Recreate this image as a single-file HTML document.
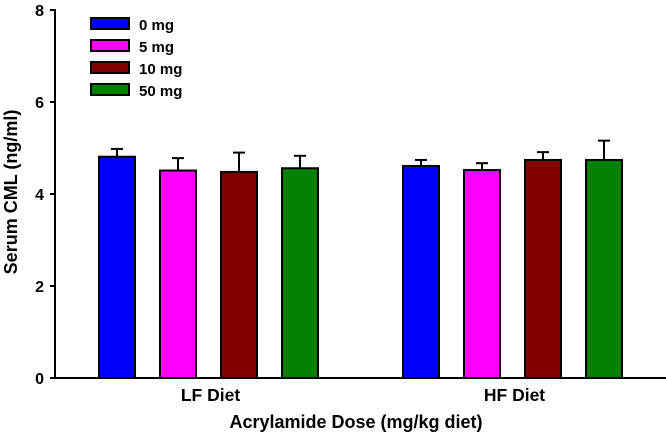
<!DOCTYPE html>
<html><head><meta charset="utf-8"><style>
body{margin:0;background:#fff}
svg text{font-family:"Liberation Sans",Arial,sans-serif;font-weight:bold;fill:#000}
</style></head><body>
<svg id="chart" width="666" height="435">
<g id="bars"></g>
<g id="axes"></g>
<g id="legend"></g>
</svg>
<script>
const groups=["LF Diet","HF Diet"];
const series=["0 mg","5 mg","10 mg","50 mg"];
const colors=["#0000ff","#ff00ff","#800000","#008000"];
const lfMeans=[4.81,4.51,4.48,4.56];
const lfErr=[0.17,0.27,0.42,0.27];
const hfMeans=[4.61,4.52,4.74,4.74];
const hfErr=[0.13,0.15,0.17,0.42];
const yTicks=[0,2,4,6,8];
const NS="http://www.w3.org/2000/svg";
const x0=55,yBase=378,yTop=10,yMax=8;
const y=v=>yBase-(v/yMax)*(yBase-yTop);
const groupStart=[99,403],barW=36,step=61;
function mk(t,a,p){const e=document.createElementNS(NS,t);for(const k in a)e.setAttribute(k,a[k]);p.appendChild(e);return e;}
const bars=document.getElementById('bars'),axes=document.getElementById('axes'),leg=document.getElementById('legend');
[lfMeans,hfMeans].forEach((means,gi)=>{
 const errs=gi?hfErr:lfErr;
 means.forEach((m,si)=>{
  const bx=groupStart[gi]+si*step,cx=bx+barW/2;
  const e=mk('line',{x1:cx,x2:cx,y1:y(m),y2:y(m+errs[si]),stroke:'#000','stroke-width':2},bars);
  
  
  const c=mk('line',{x1:cx-6,x2:cx+6,y1:y(m+errs[si]),y2:y(m+errs[si]),stroke:'#000','stroke-width':2},bars);
  
  
  const r=mk('rect',{x:bx,y:y(m),width:barW,height:yBase-y(m),fill:colors[si],stroke:'#000','stroke-width':2},bars);
  
  
 });
 const t=mk('text',{x:groupStart[gi]+(3*step+barW)/2+2,y:401,'font-size':17.5,'text-anchor':'middle'},axes);
 t.textContent=groups[gi];
 
 
});
const ya=mk('line',{x1:x0,x2:x0,y1:yTop-1,y2:yBase+1,stroke:'#000','stroke-width':2},axes);


const xa=mk('line',{x1:x0-5,x2:666,y1:yBase,y2:yBase,stroke:'#000','stroke-width':2},axes);


yTicks.forEach(v=>{
 const tk=mk('line',{x1:x0-5,x2:x0,y1:y(v),y2:y(v),stroke:'#000','stroke-width':2},axes);
 
 
 const t=mk('text',{x:x0-11,y:y(v)+6,'font-size':16,'text-anchor':'end'},axes);
 t.textContent=v;
 
 
});
const yt=mk('text',{x:0,y:0,'font-size':18,'text-anchor':'middle',transform:'translate(17,192) rotate(-90)'},axes);
yt.textContent='Serum CML (ng/ml)';


const xt=mk('text',{x:356,y:428,'font-size':18,'text-anchor':'middle'},axes);
xt.textContent='Acrylamide Dose (mg/kg diet)';


series.forEach((s,i)=>{
 const r=mk('rect',{x:91,y:18+i*22,width:38,height:11,fill:colors[i],stroke:'#000','stroke-width':2},leg);
 
 
 const t=mk('text',{x:139,y:30+i*22,'font-size':15},leg);
 t.textContent=s;
 
 
});
</script>
</body></html>
